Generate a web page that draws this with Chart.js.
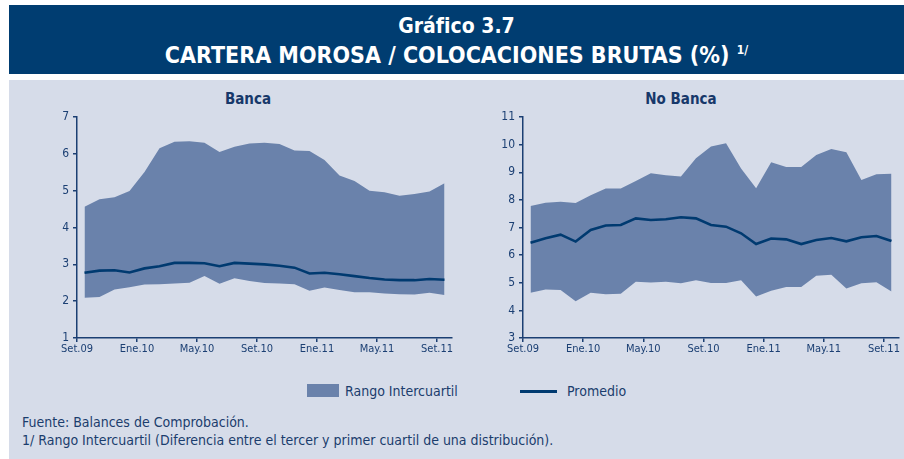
<!DOCTYPE html>
<html lang="es">
<head>
  <meta charset="utf-8">
  <title>Cartera morosa / colocaciones brutas</title>
  <script src="https://cdn.jsdelivr.net/npm/chart.js"></script>
  <style>
    body { margin: 0; width: 904px; height: 459px; background: #fff; position: relative; overflow: hidden;
           font-family: "Liberation Sans Narrow", "DejaVu Sans Condensed", sans-serif; color: #1b3d6d; }
    .banner { position: absolute; left: 9px; top: 5px; width: 895px; height: 69px; background: #003d71;
              color: #fff; text-align: center; font-weight: bold; }
    .banner .l1 { position: absolute; left: 0; right: 0; top: 9px; font-size: 21px; }
    .banner .l2 { position: absolute; left: 0; right: 0; top: 37px; font-size: 23px; }
    .banner sup { font-size: 12px; vertical-align: 9px; }
    .panel { position: absolute; left: 9px; top: 80px; width: 895px; height: 379px; background: #d6dce9; }
    canvas { position: absolute; }
    .ct { position: absolute; top: 90px; font-weight: bold; font-size: 15px; transform: translateX(-50%); color: #17386a; }
    .lg { position: absolute; font-size: 14px; top: 383px; }
    .foot { position: absolute; left: 22px; font-size: 14px; }
  </style>
</head>
<body>
  <div class="banner">
    <div class="l1">Gráfico 3.7</div>
    <div class="l2">CARTERA MOROSA / COLOCACIONES BRUTAS (%) <sup>1/</sup></div>
  </div>
  <div class="panel"></div>
  <div class="ct" style="left:248px">Banca</div>
  <div class="ct" style="left:681px">No Banca</div>
  <canvas id="banca" width="420" height="265" style="left:40px;top:105px"></canvas>
  <canvas id="noBanca" width="418" height="265" style="left:486px;top:105px"></canvas>

  <div style="position:absolute;left:307px;top:384px;width:32px;height:13px;background:#6a82ab"></div>
  <div class="lg" style="left:345px">Rango Intercuartil</div>
  <div style="position:absolute;left:520px;top:390px;width:37px;height:3px;background:#003a70"></div>
  <div class="lg" style="left:567px">Promedio</div>

  <div class="foot" style="top:414px">Fuente: Balances de Comprobación.</div>
  <div class="foot" style="top:432px">1/ Rango Intercuartil (Diferencia entre el tercer y primer cuartil de una distribución).</div>

  <script>
    // meses Set.09 .. Set.11 (25 observaciones mensuales)
    const tickLabels = ['Set.09', 'Ene.10', 'May.10', 'Set.10', 'Ene.11', 'May.11', 'Set.11'];

    const bancaQ3 = [4.56, 4.77, 4.82, 4.99, 5.51, 6.15, 6.33, 6.34, 6.30, 6.05, 6.19, 6.28,
                     6.30, 6.27, 6.09, 6.08, 5.83, 5.41, 5.26, 5.00, 4.96, 4.86, 4.91, 4.98, 5.20];
    const bancaProm = [2.77, 2.83, 2.84, 2.78, 2.89, 2.95, 3.04, 3.04, 3.03, 2.95, 3.04, 3.02,
                       3.00, 2.96, 2.91, 2.75, 2.77, 2.73, 2.68, 2.63, 2.59, 2.57, 2.57, 2.60, 2.58];
    const bancaQ1 = [2.09, 2.11, 2.32, 2.38, 2.45, 2.46, 2.48, 2.50, 2.68, 2.47, 2.62, 2.55,
                     2.49, 2.48, 2.46, 2.28, 2.37, 2.30, 2.24, 2.24, 2.21, 2.19, 2.18, 2.23, 2.17];

    const noBancaQ3 = [7.78, 7.90, 7.93, 7.89, 8.17, 8.41, 8.41, 8.68, 8.96, 8.89, 8.85, 9.51,
                       9.93, 10.05, 9.14, 8.42, 9.36, 9.19, 9.19, 9.62, 9.84, 9.72, 8.72, 8.93, 8.95];
    const noBancaProm = [6.45, 6.61, 6.74, 6.49, 6.91, 7.07, 7.09, 7.33, 7.27, 7.30, 7.37, 7.33,
                         7.09, 7.03, 6.79, 6.40, 6.60, 6.57, 6.40, 6.55, 6.62, 6.50, 6.65, 6.69, 6.51];
    const noBancaQ1 = [4.64, 4.76, 4.74, 4.33, 4.64, 4.58, 4.60, 5.04, 5.01, 5.04, 4.98, 5.09,
                       4.99, 4.99, 5.09, 4.50, 4.71, 4.85, 4.85, 5.25, 5.29, 4.79, 4.98, 5.02, 4.68];

    const FONT = '"Liberation Sans Narrow", "DejaVu Sans Condensed", sans-serif';
    const AXIS = '#1b3f73';
    const FILL = '#6a82ab';
    const LINE = '#003a70';

    // each month sits in the middle of its slot, ticks mark the slot edges
    const pts = arr => arr.map((v, i) => ({ x: i + 0.5, y: v }));

    function makeChart(id, q1, q3, prom, yMin, yMax, padRight) {
      return new Chart(document.getElementById(id), {
        type: 'line',
        data: {
          datasets: [
            { data: pts(q1), borderWidth: 0, pointRadius: 0, fill: false, order: 2 },
            { data: pts(q3), borderWidth: 0, pointRadius: 0, fill: '-1', backgroundColor: FILL, order: 1 },
            { data: pts(prom), borderColor: LINE, borderWidth: 2.6, pointRadius: 0, fill: false, order: 0 }
          ]
        },
        options: {
          responsive: false,
          animation: false,
          devicePixelRatio: 1,
          layout: { padding: { top: 12, right: padRight, left: 0, bottom: 0 } },
          plugins: { legend: { display: false }, tooltip: { enabled: false } },
          elements: { line: { tension: 0 } },
          scales: {
            x: {
              type: 'linear', min: 0, max: 25,
              afterBuildTicks: s => { s.ticks = tickLabels.map((_, i) => ({ value: i * 4 })); },
              afterFit: s => { s.height = 32; },
              ticks: { callback: v => tickLabels[v / 4], color: AXIS, padding: 1,
                       font: { family: FONT, size: 11 }, maxRotation: 0, autoSkip: false },
              grid: { drawOnChartArea: false, color: AXIS, tickLength: 4, lineWidth: 1.5 },
              border: { color: AXIS, width: 1.5 }
            },
            y: {
              min: yMin, max: yMax,
              afterFit: s => { s.width = 37; },
              ticks: { stepSize: 1, color: AXIS, padding: 4, font: { family: FONT, size: 12 } },
              grid: { drawOnChartArea: false, color: AXIS, tickLength: 4, lineWidth: 1.5 },
              border: { color: AXIS, width: 1.5 }
            }
          }
        }
      });
    }

    makeChart('banca', bancaQ1, bancaQ3, bancaProm, 1, 7, 8);
    makeChart('noBanca', noBancaQ1, noBancaQ3, noBancaProm, 3, 11, 5);
  </script>
</body>
</html>
